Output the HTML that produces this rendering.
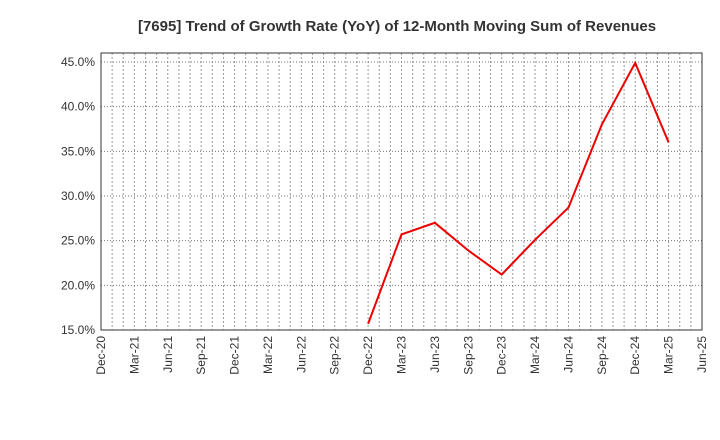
<!DOCTYPE html>
<html><head><meta charset="utf-8"><style>body{margin:0;background:#fff}svg{display:block;font-family:"Liberation Sans",sans-serif}</style></head>
<body>
<svg id="c" width="720" height="440">
<text x="397" y="31" text-anchor="middle" font-size="15" font-weight="bold" fill="#333">[7695]  Trend of Growth Rate (YoY) of 12-Month Moving Sum of Revenues</text>
</svg>
<script>
const xLabels=["Dec-20","Mar-21","Jun-21","Sep-21","Dec-21","Mar-22","Jun-22","Sep-22","Dec-22","Mar-23","Jun-23","Sep-23","Dec-23","Mar-24","Jun-24","Sep-24","Dec-24","Mar-25","Jun-25"];
const yTicks=[15,20,25,30,35,40,45];
const seriesQ=[8,9,10,11,12,13,14,15,16,17];
const seriesV=[15.7,25.7,27.0,23.9,21.2,25.1,28.7,38.0,44.9,36.0];
const L=101,R=702,T=53,B=330;
const xs=q=>L+(R-L)*q/18;
const ys=v=>330-(v-15)*(330-62)/30;
const svg=document.getElementById('c');const NS='http://www.w3.org/2000/svg';
function mk(t,a){const e=document.createElementNS(NS,t);for(const k in a)e.setAttribute(k,a[k]);svg.appendChild(e);return e;}
for(let m=1;m<54;m++){const x=L+(R-L)*m/54;const g=mk('line',{x1:x,x2:x,y1:T,y2:B,stroke:'#999','stroke-dasharray':'2,2','stroke-width':1});

}
yTicks.forEach(v=>{const y=ys(v);const g=mk('line',{x1:L,x2:R,y1:y,y2:y,stroke:'#777','stroke-dasharray':'1,2','stroke-width':1});


const t=mk('text',{x:L-6,y:y+4,'text-anchor':'end','font-size':12,fill:'#333'});t.textContent=v.toFixed(1)+'%';

});
xLabels.forEach((s,i)=>{const x=xs(i);const t=mk('text',{transform:`translate(${x+4},${B+6}) rotate(-90)`,'text-anchor':'end','font-size':12,fill:'#333'});t.textContent=s;

});
const f=mk('rect',{x:L,y:T,width:R-L,height:B-T,fill:'none',stroke:'#333','stroke-width':1});


const p=mk('polyline',{points:seriesQ.map((q,i)=>xs(q)+','+ys(seriesV[i])).join(' '),fill:'none',stroke:'#e00',"stroke-width":2});


</script>
</body></html>
